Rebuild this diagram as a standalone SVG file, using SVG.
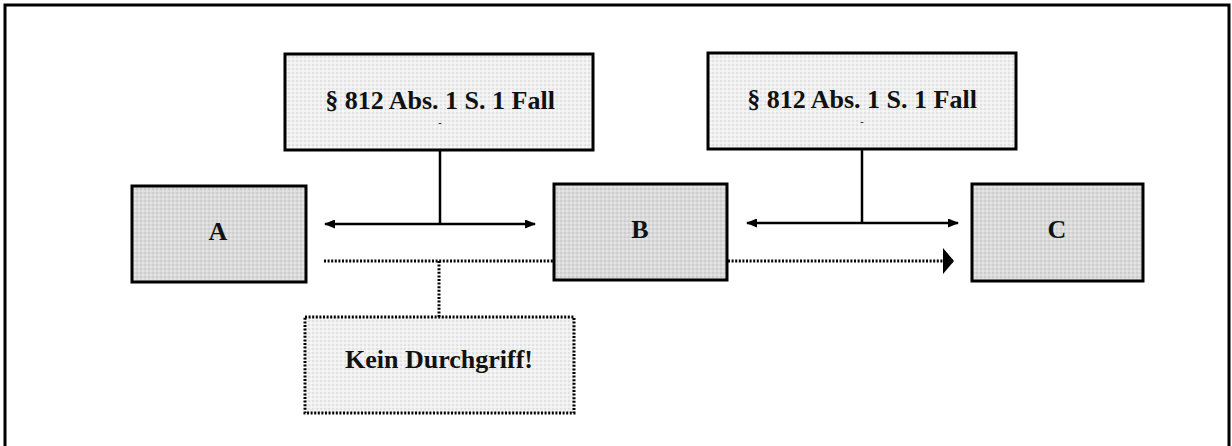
<svg xmlns="http://www.w3.org/2000/svg" width="1232" height="446" viewBox="0 0 1232 446">
  <defs>
    <pattern id="pDark" width="4" height="4" patternUnits="userSpaceOnUse">
      <rect width="4" height="4" fill="#dadada"/>
      <rect x="0" y="0" width="2" height="2" fill="#cdcdcd"/>
      <rect x="2" y="2" width="2" height="2" fill="#e4e4e4"/>
    </pattern>
    <pattern id="pLight" width="4" height="4" patternUnits="userSpaceOnUse">
      <rect width="4" height="4" fill="#f0f0f0"/>
      <rect x="0" y="0" width="2" height="2" fill="#e2e2e2"/>
      <rect x="2" y="2" width="2" height="2" fill="#f7f7f7"/>
    </pattern>
    <marker id="ah" viewBox="0 0 11 9" refX="10" refY="4.5" markerWidth="11" markerHeight="9" markerUnits="userSpaceOnUse" orient="auto-start-reverse">
      <path d="M0,0 L11,4.5 L0,9 Z" fill="#000"/>
    </marker>
    <marker id="ahBig" viewBox="0 0 11 26" refX="10" refY="13" markerWidth="11" markerHeight="26" markerUnits="userSpaceOnUse" orient="auto">
      <path d="M0,0 L11,13 L0,26 Z" fill="#000"/>
    </marker>
  </defs>
  <style>
    .box { stroke: #000; stroke-width: 3; }
    .dark { fill: url(#pDark); }
    .light { fill: url(#pLight); }
    .dotbox { fill: url(#pLight); stroke: #000; stroke-width: 3; stroke-dasharray: 2 1.6; }
    .lbl { font-family: "Liberation Serif", "Times New Roman", serif; font-weight: bold; font-size: 26px; fill: #111; text-anchor: middle; }
    .tiny { font-family: "Liberation Serif", serif; font-weight: bold; font-size: 10px; fill: #111; text-anchor: middle; }
    .solid { stroke: #000; stroke-width: 2.5; fill: none; }
    .dotted { stroke: #000; stroke-width: 3; fill: none; stroke-dasharray: 2 1.6; }
  </style>

  <rect x="0" y="0" width="1232" height="446" fill="#fff"/>
  <rect id="frame" x="5" y="5" width="1224" height="470" fill="none" stroke="#000" stroke-width="3"/>

  <g id="connectors">
    <line class="solid" x1="440" y1="150" x2="440" y2="224"/>
    <line class="solid" x1="325" y1="224" x2="535" y2="224" marker-start="url(#ah)" marker-end="url(#ah)"/>
    <line class="solid" x1="862" y1="149" x2="862" y2="223"/>
    <line class="solid" x1="747" y1="223" x2="958" y2="223" marker-start="url(#ah)" marker-end="url(#ah)"/>
    <line class="dotted" x1="324" y1="261" x2="554" y2="261"/>
    <line class="dotted" x1="728" y1="261" x2="953" y2="261" marker-end="url(#ahBig)"/>
    <line class="dotted" x1="439" y1="261" x2="439" y2="317"/>
  </g>

  <g id="rule-left">
    <rect class="box light" x="285" y="54" width="308" height="96"/>
    <text class="lbl" x="440" y="109">§ 812 Abs. 1 S. 1 Fall</text>
    <text class="tiny" x="440" y="126">-</text>
  </g>
  <g id="rule-right">
    <rect class="box light" x="708" y="53" width="308" height="96"/>
    <text class="lbl" x="862" y="108">§ 812 Abs. 1 S. 1 Fall</text>
    <text class="tiny" x="862" y="125">-</text>
  </g>
  <g id="node-A">
    <rect class="box dark" x="132" y="186" width="174" height="96"/>
    <text class="lbl" x="218" y="240">A</text>
  </g>
  <g id="node-B">
    <rect class="box dark" x="554" y="184" width="173" height="96"/>
    <text class="lbl" x="640" y="238">B</text>
  </g>
  <g id="node-C">
    <rect class="box dark" x="972" y="184" width="171" height="97"/>
    <text class="lbl" x="1057" y="238">C</text>
  </g>
  <g id="note">
    <rect class="dotbox" x="305" y="317" width="269" height="96"/>
    <text class="lbl" x="439" y="368">Kein Durchgriff!</text>
  </g>
</svg>
